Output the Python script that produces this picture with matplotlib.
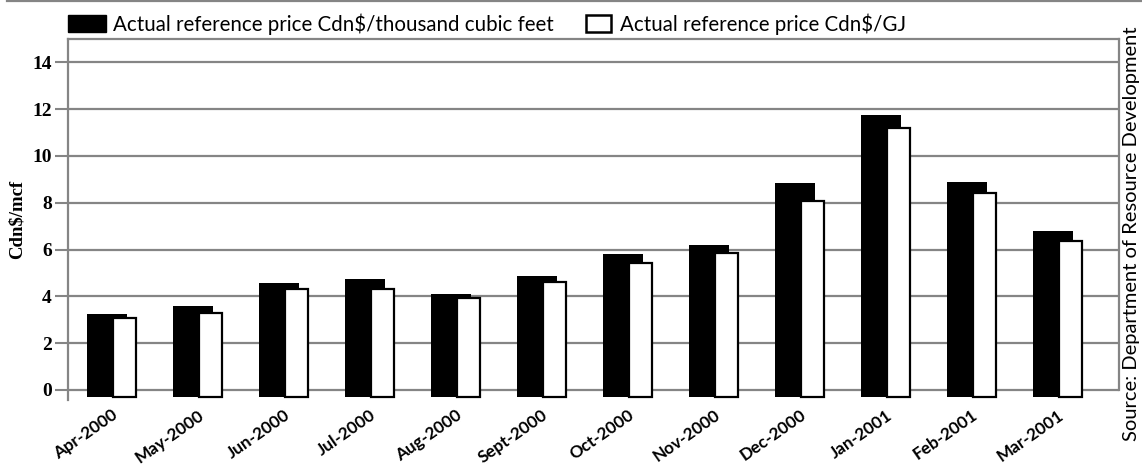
import matplotlib
matplotlib.use("Agg")
import matplotlib.pyplot as plt
import numpy as np
from matplotlib.patches import Patch
from matplotlib.lines import Line2D

months = ['Apr-2000', 'May-2000', 'Jun-2000', 'Jul-2000', 'Aug-2000', 'Sept-2000',
          'Oct-2000', 'Nov-2000', 'Dec-2000', 'Jan-2001', 'Feb-2001', 'Mar-2001']
price_mcf = [3.26, 3.58, 4.57, 4.76, 4.08, 4.88, 5.80, 6.19, 8.84, 11.77, 8.88, 6.80]
price_gj = [3.08, 3.30, 4.31, 4.30, 3.94, 4.60, 5.42, 5.84, 8.08, 11.19, 8.42, 6.38]
yticks = [0, 2, 4, 6, 8, 10, 12, 14]

grey = '#858585'
sans = ['Lato', 'DejaVu Sans']
serif = ['Liberation Serif', 'DejaVu Serif']

fig = plt.figure(figsize=(11.42, 4.67), dpi=100)
ax = fig.add_axes([0.0595, 0.1435, 0.9204, 0.773])

x = np.arange(len(months))
base = -0.3  # bars run a little below the zero line
ax.bar(x - 0.284, np.array(price_mcf) - base, bottom=base, width=0.458,
       align='edge', color='black', linewidth=0, zorder=2)
ax.bar(x + 0.012, np.array(price_gj) - base, bottom=base, width=0.271,
       align='edge', color='white', edgecolor='black', linewidth=1.6, zorder=3)

ax.set_xlim(-0.508, 11.713)
ax.set_ylim(-0.43, 15)
ax.set_yticks(yticks)
ax.set_yticklabels([str(t) for t in yticks], family=serif, fontweight='bold', fontsize=14)
ax.yaxis.grid(True, color=grey, linewidth=1.6)
ax.set_axisbelow(True)
ax.tick_params(axis='y', length=9.5, width=1.5, color=grey, pad=2)

ax.set_xticks(x)
ax.set_xticklabels(months, rotation=35, ha='right', va='top', rotation_mode='anchor',
                   family=sans, fontweight='bold', fontsize=12.3)
ax.tick_params(axis='x', length=0, pad=5)

ax.set_ylabel('Cdn$/mcf', family=serif, fontweight='bold', fontsize=13.5, labelpad=5)

for side in ['left', 'right', 'top']:
    ax.spines[side].set_color(grey)
    ax.spines[side].set_linewidth(1.6)
ax.spines['bottom'].set_visible(False)
ax.spines['right'].set_bounds(0, 15)

# legend keys of different sizes, so two legends side by side
legend_font = {'family': sans, 'size': 14.8}
fig.legend([Patch(facecolor='black', edgecolor='black')],
           ['Actual reference price Cdn$/thousand cubic feet'],
           loc='center left', bbox_to_anchor=(0.0595, 0.9486), frameon=False,
           borderpad=0, borderaxespad=0,
           handlelength=1.85, handleheight=0.87, handletextpad=0.34, prop=legend_font)
fig.legend([Patch(facecolor='white', edgecolor='black', linewidth=1.8)],
           ['Actual reference price Cdn$/GJ'],
           loc='center left', bbox_to_anchor=(0.5129, 0.9486), frameon=False,
           borderpad=0, borderaxespad=0,
           handlelength=1.21, handleheight=0.92, handletextpad=0.44, prop=legend_font)

fig.add_artist(Line2D([0.006, 1.0], [0.998, 0.998], transform=fig.transFigure,
                      color=grey, linewidth=1.6))

fig.text(0.991, 0.5, 'Source: Department of Resource Development', rotation=90,
         ha='center', va='center', family=sans, fontsize=14.5)

fig.savefig('out.png', dpi=100)
